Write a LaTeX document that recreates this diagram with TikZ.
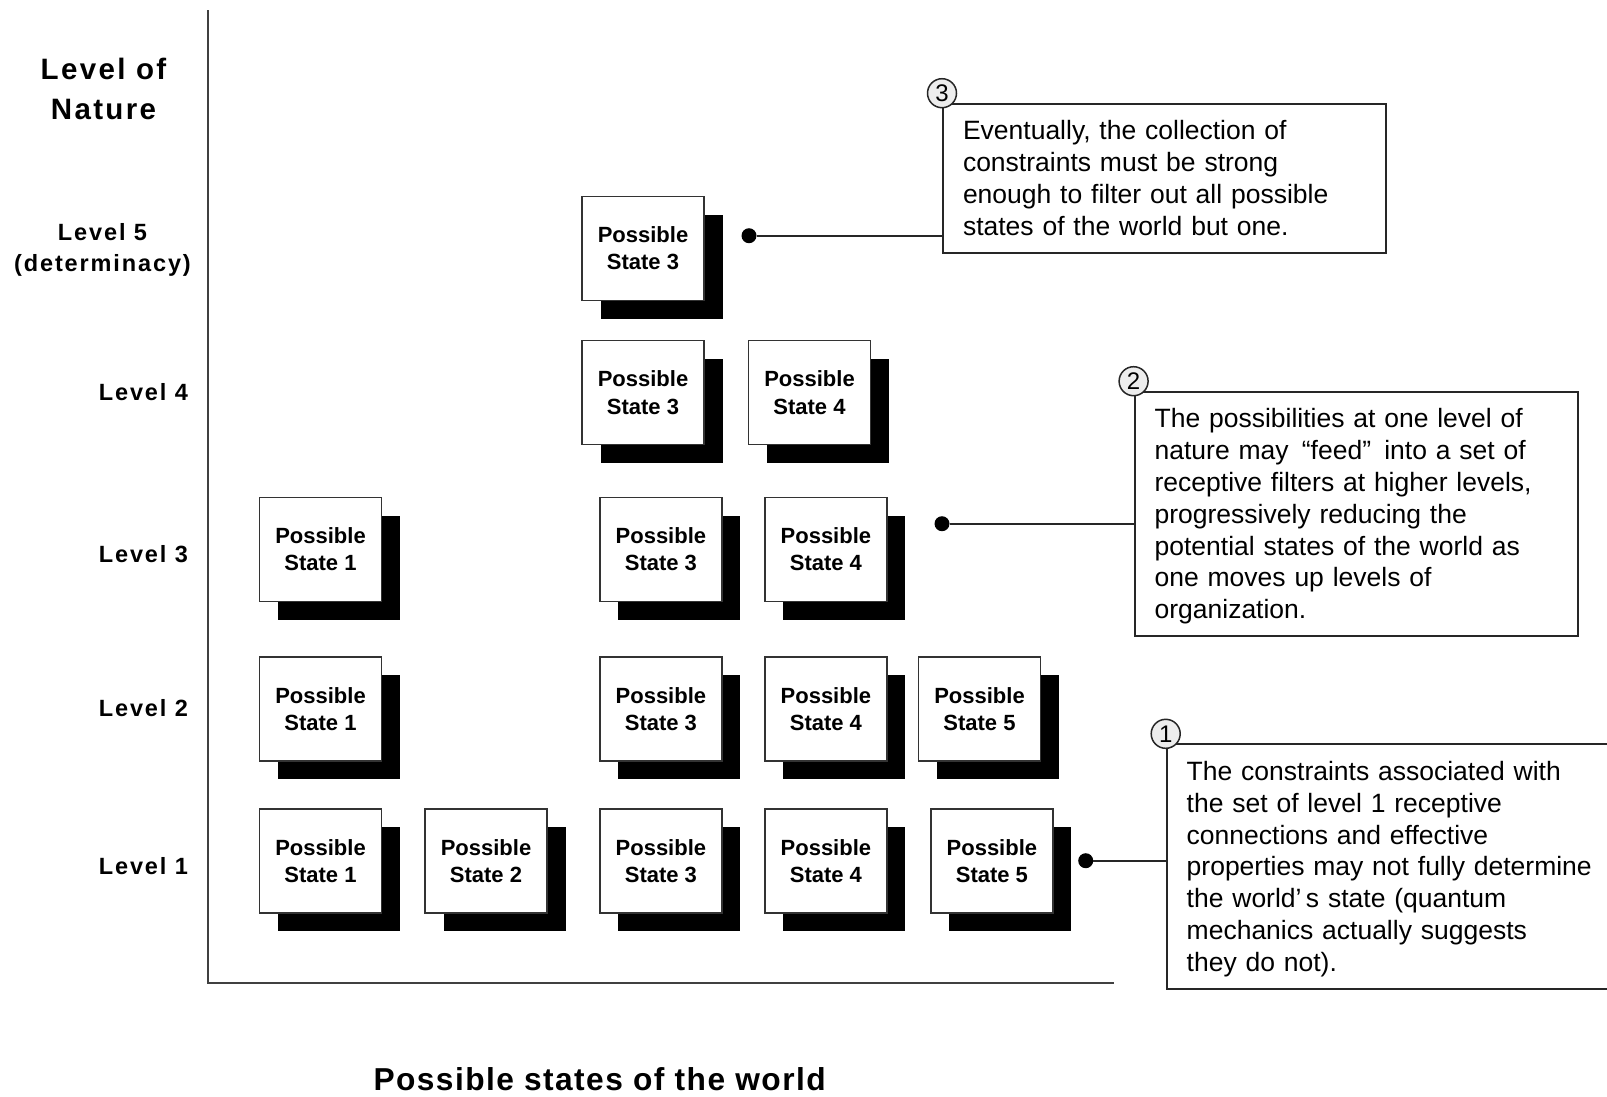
\documentclass[tikz,border=0pt]{standalone}
\usepackage{fontspec}
\setmainfont{Liberation Sans}
\newfontfamily\lblfont[LetterSpace=8.0]{Liberation Sans}
\newfontfamily\ttlfont[LetterSpace=4.5]{Liberation Sans}
\usetikzlibrary{shadows,positioning}
\newcommand\ShOff{18.5pt}
\newcommand\TopStrut{\rule{0pt}{25.3pt}}
\newcommand\BotStrut{\rule[-6.5pt]{0pt}{6.5pt}}
\tikzset{
  stbox/.style={
    shape = rectangle,
    draw = black!80,
    line width = 1.5pt,
    fill = white,
    minimum width = 122pt,
    minimum height = 104pt,
    inner sep = 0pt,
    align = center,
    font = \bfseries\fontsize{22}{27.3}\selectfont,
    drop shadow = {shadow xshift=\ShOff, shadow yshift=-\ShOff, fill=black, opacity=1}
  },
}
\tikzset{
  lvl/.style={
    anchor = east,
    align = center,
    font = \lblfont\bfseries\fontsize{23.5}{31.7}\selectfont
  },
  notebox/.style={
    shape = rectangle,
    draw = black!85,
    line width = 2pt,
    fill = white,
    anchor = north west,
    text width = 403pt,
    inner xsep = 20pt,
    inner ysep = 10.9pt,
    align = left,
    font = \fontsize{26.5}{31.8}\selectfont
  },
  numcirc/.style={
    shape = circle,
    draw = black!85,
    line width = 1.5pt,
    fill = black!7,
    minimum size = 29pt,
    inner sep = 0pt,
    font = \fontsize{24}{24}\selectfont
  },
  endpt/.style={
    shape = circle,
    fill = black,
    minimum size = 15pt,
    inner sep = 0pt
  },
  leader/.style={
    line width = 2pt,
    draw = black!85
  },
  axisline/.style={
    line width = 2pt,
    draw = black!75
  }
}

\begin{document}
\begin{tikzpicture}[x=1pt,y=-1pt]
\useasboundingbox (0,0) rectangle (1607,1096);

       % axes
       \draw[axisline] (208,10) -- (208,983) -- (1114,983);

       \node[lvl, anchor=center, font=\lblfont\bfseries\fontsize{29.5}{40.7}\selectfont] (ylab) at (103.5,89) {Level of\\Nature};
       \node[inner sep=0pt, font=\ttlfont\bfseries\fontsize{31.7}{38}\selectfont] (xlab) at (599.6,1079) {Possible states of the world};

       \node[lvl, anchor=center] (lv5) at (102.5,250) {Level 5\\(determinacy)};
       \node[lvl] (lv4) at (191.5,392.5) {Level 4};
       \node[lvl] (lv3) at (191.5,554.5) {Level 3};
       \node[lvl] (lv2) at (191.5,708) {Level 2};
       \node[lvl] (lv1) at (191.5,866) {Level 1};

       % level 5
       \node[stbox] (s53) at (643,248.4) {Possible\\State 3};
       % level 4
       \node[stbox] (s43) at (643,392.5) {Possible\\State 3};
       \node[stbox] (s44) at (809.5,392.5) {Possible\\State 4};
       % level 3
       \node[stbox] (s31) at (320.5,549.3) {Possible\\State 1};
       \node[stbox] (s33) at (660.9,549.3) {Possible\\State 3};
       \node[stbox] (s34) at (825.9,549.3) {Possible\\State 4};
       % level 2
       \node[stbox] (s21) at (320.5,708.9) {Possible\\State 1};
       \node[stbox] (s23) at (660.9,708.9) {Possible\\State 3};
       \node[stbox] (s24) at (825.9,708.9) {Possible\\State 4};
       \node[stbox] (s25) at (979.5,708.9) {Possible\\State 5};
       % level 1
       \node[stbox] (s11) at (320.5,860.9) {Possible\\State 1};
       \node[stbox] (s12) at (486,860.9) {Possible\\State 2};
       \node[stbox] (s13) at (660.9,860.9) {Possible\\State 3};
       \node[stbox] (s14) at (825.9,860.9) {Possible\\State 4};
       \node[stbox] (s15) at (991.9,860.9) {Possible\\State 5};

       % notes
       \node[notebox] (c3) at (942,102.7) {\TopStrut Eventually, the collection of\\constraints must be strong\\enough to filter out all possible\\states of the world but one.\BotStrut};
       \node[notebox] (c2) at (1133.6,390.7) {\TopStrut The possibilities at one level of\\nature may\ \,“feed”\,\ into a set of\\receptive filters at higher levels,\\progressively reducing the\\potential states of the world as\\one moves up levels of\\organization.\BotStrut};
       \node[notebox] (c1) at (1165.7,743.3) {\TopStrut The constraints associated with\\the set of level 1 receptive\\connections and effective\\\makebox[403pt][l]{properties may not fully determine}\\the world’\,s state (quantum\\mechanics actually suggests\\they do not).\BotStrut};

       \node[numcirc] (n3) at ([yshift=9.5pt]c3.north west) {3};
       \node[numcirc] (n2) at ([yshift=9.5pt]c2.north west) {2};
       \node[numcirc] (n1) at ([yshift=9.5pt]c1.north west) {1};

       \node[endpt] (d3) at (749,235.7) {};
       \node[endpt] (d2) at (942,523.7) {};
       \node[endpt] (d1) at (1085.7,860.7) {};

       \draw[leader] (d3) -- (d3 -| c3.west);
       \draw[leader] (d2) -- (d2 -| c2.west);
       \draw[leader] (d1) -- (d1 -| c1.west);

\end{tikzpicture}
\end{document}
